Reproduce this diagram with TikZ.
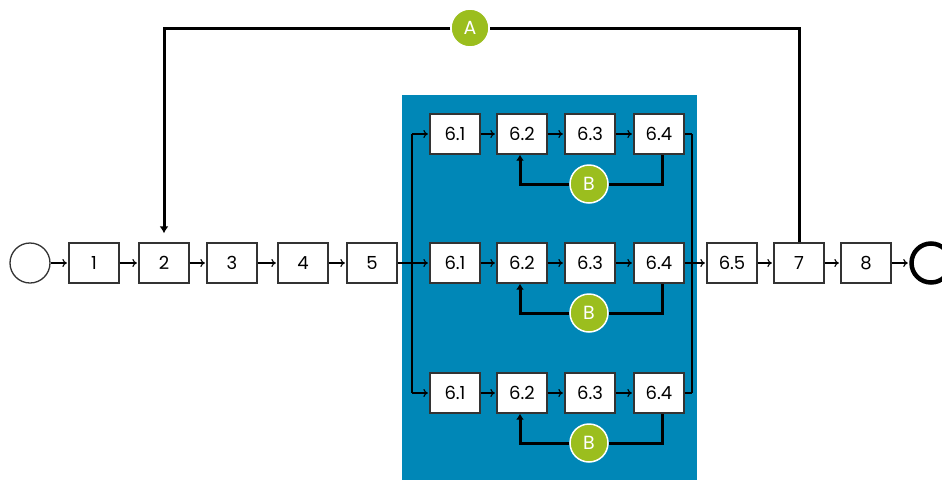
\documentclass[tikz,border=0pt]{standalone}
\usepackage{fontspec}
\setmainfont{Poppins}
\usetikzlibrary{arrows.meta}

\definecolor{poolblue}{RGB}{0,135,183}
\definecolor{markgreen}{RGB}{155,190,30}

\begin{document}
\begin{tikzpicture}[x=1pt,y=-1pt,
  every node/.style={font=\fontsize{18}{20}\selectfont},
  task/.style={draw=black!80,fill=white,line width=1.3pt,minimum width=50pt,minimum height=40pt,inner sep=0pt},
  flow/.style={line width=1.1pt,-{To[length=4.5pt,width=8pt]},shorten >=1.5pt},
  loopline/.style={line width=3pt},
  badge/.style={circle,fill=markgreen,draw=white,line width=1.5pt,minimum size=38pt,inner sep=0pt,text=white,font=\fontsize{19}{20}\selectfont},
  ]
    \useasboundingbox (0,0) rectangle (942,480);
    \clip (0,0) rectangle (942,480);
    % parallel section
    \fill[poolblue] (402,95) rectangle (697,480);

    % main row
    \node[circle,draw=black!80,line width=1.3pt,minimum size=40pt,inner sep=0pt] (start) at (30,263) {};
    \node[task] (t1) at (94,263) {1};
    \node[task] (t2) at (164,263) {2};
    \node[task] (t3) at (232,263) {3};
    \node[task] (t4) at (303,263) {4};
    \node[task] (t5) at (372,263) {5};
    \node[task] (t65) at (732,263) {6.5};
    \node[task] (t7) at (799,263) {7};
    \node[task] (t8) at (866,263) {8};
    \node[circle,draw=black,line width=4.5pt,minimum size=39pt,inner sep=0pt] (stop) at (931,263) {};

    % three branches
    \foreach \row/\y in {a/134,b/263,c/393}{
      \node[task] (\row1) at (455,\y) {6.1};
      \node[task] (\row2) at (522,\y) {6.2};
      \node[task] (\row3) at (590,\y) {6.3};
      \node[task] (\row4) at (659,\y) {6.4};
      \draw[flow] (\row1) -- (\row2);
      \draw[flow] (\row2) -- (\row3);
      \draw[flow] (\row3) -- (\row4);
      \coordinate (\row in) at (412,\y);
      \coordinate (\row out) at (692,\y);
      \draw[line width=1.3pt] (\row4.east) -- (\row out);
      % rework loop
      \node[badge] (b\row) at (589,\y+50) {B};
      \draw[loopline,-{Latex[length=6pt,width=8pt]}] (b\row.west) -| ([xshift=-2pt]\row2.south);
      \draw[loopline] (b\row.east) -| ([xshift=3pt]\row4.south);
    }
    \draw[line width=1.3pt] (ain) -- (cin);
    \draw[line width=1.3pt] (aout) -- (cout);
    \draw[flow] (ain) -- (a1);
    \draw[flow] (cin) -- (c1);
    \draw[flow] (t5) -- (b1);
    \draw[flow] (bout) -- (t65);

    \draw[flow] (start) -- (t1);
    \draw[flow] (t1) -- (t2);
    \draw[flow] (t2) -- (t3);
    \draw[flow] (t3) -- (t4);
    \draw[flow] (t4) -- (t5);
    \draw[flow] (t65) -- (t7);
    \draw[flow] (t7) -- (t8);
    \draw[flow] (t8) -- (stop);

    % jump back
    \node[badge] (ma) at (470,28) {A};
    \draw[loopline] (t7.north) |- (ma.east);
    \draw[loopline,-{Latex[length=7pt,width=9pt]}] (ma.west) -| ([yshift=9pt]t2.north);
\end{tikzpicture}
\end{document}
